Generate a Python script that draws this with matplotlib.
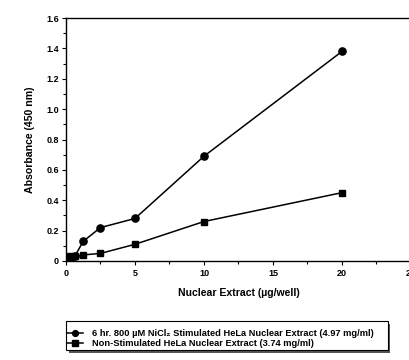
import numpy as np
import matplotlib.pyplot as plt
from matplotlib.ticker import MultipleLocator
from matplotlib.patches import Rectangle

plt.rcParams['font.family'] = ['Liberation Sans', 'DejaVu Sans']
plt.rcParams['font.weight'] = 'bold'

conc = [0.16, 0.31, 0.63, 1.25, 2.5, 5, 10, 20]
stimulated = [0.0, 0.01, 0.03, 0.13, 0.22, 0.28, 0.69, 1.38]
non_stimulated = [0.01, 0.03, 0.03, 0.04, 0.05, 0.11, 0.26, 0.45]

labels = ['6 hr. 800 \u00b5M NiCl\u2082 Stimulated HeLa Nuclear Extract (4.97 mg/ml)',
          'Non-Stimulated HeLa Nuclear Extract (3.74 mg/ml)']

W, H = 410, 360
fig = plt.figure(figsize=(W / 100, H / 100), dpi=100)
ax = fig.add_axes([66 / W, 99 / H, 345 / W, 243 / H])

ax.plot(conc, stimulated, color='black', marker='o', ms=5.2, lw=1.1, label=labels[0])
ax.plot(conc, non_stimulated, color='black', marker='s', ms=4.8, lw=1.1, label=labels[1])

ax.set_xlim(0, 25)
ax.set_ylim(0, 1.6)
ax.xaxis.set_major_locator(MultipleLocator(5))
ax.xaxis.set_minor_locator(MultipleLocator(2.5))
ax.yaxis.set_major_locator(MultipleLocator(0.2))
ax.yaxis.set_minor_locator(MultipleLocator(0.1))
ax.set_yticklabels(['0' if abs(v) < 1e-9 else '%.1f' % v for v in ax.get_yticks()])

ax.spines['right'].set_visible(False)
for s in ['left', 'bottom', 'top']:
    ax.spines[s].set_linewidth(1.0)
ax.tick_params(which='major', direction='out', length=3, width=0.8, labelsize=6.5, pad=2)
ax.tick_params(which='minor', direction='out', length=2, width=0.8)
ax.tick_params(axis='x', pad=3)

ax.set_xlabel('Nuclear Extract (\u00b5g/well)', fontsize=7.6, fontweight='bold', labelpad=7)
ax.set_ylabel('Absorbance (450 nm)', fontsize=7.6, fontweight='bold', labelpad=8)

# legend box with a drop shadow
x0, y0, x1, y1 = 66, 321, 388, 350
fig.patches.append(Rectangle(((x0 + 2.5) / W, 1 - (y1 + 2.5) / H), (x1 - x0) / W, (y1 - y0) / H,
                             transform=fig.transFigure, facecolor='#555555', edgecolor='none', zorder=1))
fig.patches.append(Rectangle((x0 / W, 1 - y1 / H), (x1 - x0) / W, (y1 - y0) / H,
                             transform=fig.transFigure, facecolor='white', edgecolor='black',
                             linewidth=0.8, zorder=2))

leg = fig.legend(loc='upper left', bbox_to_anchor=((x0 + 1) / W, 1 - (y0 + 8) / H), fontsize=6.7,
                 frameon=False, borderpad=0.0, borderaxespad=0.0, handlelength=1.75,
                 labelspacing=0.15, handletextpad=0.9, markerscale=0.8)
leg.set_zorder(3)

fig.savefig('out.png', dpi=100)
